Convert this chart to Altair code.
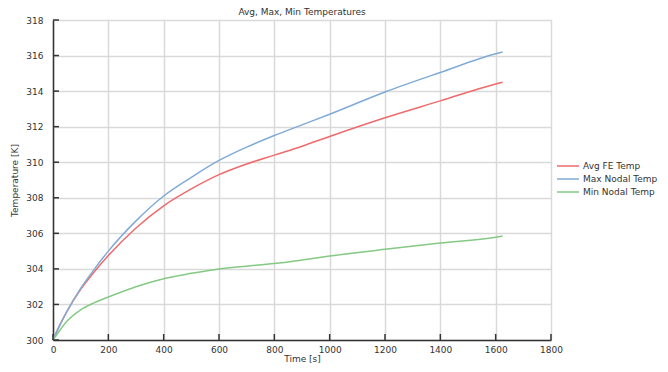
import altair as alt
import pandas as pd

time_s = [0, 25, 50, 100, 150, 200, 300, 400, 500, 600, 700, 800, 900, 1000, 1200, 1400, 1600, 1625]
avg_fe = [300.0, 300.85, 301.6, 302.85, 303.85, 304.75, 306.3, 307.55, 308.5, 309.3, 309.9, 310.4, 310.9, 311.45, 312.5, 313.45, 314.4, 314.5]
max_nodal = [300.0, 300.85, 301.6, 302.9, 304.0, 305.0, 306.7, 308.1, 309.15, 310.1, 310.85, 311.5, 312.1, 312.7, 313.95, 315.05, 316.1, 316.2]
min_nodal = [300.0, 300.55, 301.05, 301.7, 302.1, 302.42, 303.0, 303.45, 303.75, 304.0, 304.15, 304.3, 304.5, 304.72, 305.1, 305.45, 305.78, 305.85]

series_names = ["Avg FE Temp", "Max Nodal Temp", "Min Nodal Temp"]
series_colors = ["#f06a6c", "#80abd6", "#84c984"]

x_ticks = [0, 200, 400, 600, 800, 1000, 1200, 1400, 1600, 1800]
y_ticks = [300, 302, 304, 306, 308, 310, 312, 314, 316, 318]

chart_title = "Avg, Max, Min Temperatures"

rows = []
for name, vals in zip(series_names, [avg_fe, max_nodal, min_nodal]):
    for t, v in zip(time_s, vals):
        rows.append({"time": t, "temp": v, "series": name})
df = pd.DataFrame(rows)

FONT = "DejaVu Sans"
TXT = "#333333"
W, H = 498, 320

xscale = alt.Scale(domain=[0, 1800], nice=False)
yscale = alt.Scale(domain=[300, 318], nice=False, zero=False)
cscale = alt.Scale(domain=series_names, range=series_colors)

x_axis = alt.Axis(title="Time [s]", values=x_ticks, format="d", grid=True,
                  gridColor="#d9d9d9", gridWidth=1.5, domainColor=TXT,
                  domainWidth=1.5, tickSize=0, labelPadding=5,
                  labelOverlap=False, labelFlush=False,
                  labelFont=FONT, labelFontSize=9, labelColor=TXT,
                  titleFont=FONT, titleFontSize=9, titleFontWeight="normal",
                  titleColor=TXT, titleY=18, titleBaseline="middle")

lines = alt.Chart(df).mark_line(strokeWidth=1.5, interpolate="monotone").encode(
    x=alt.X("time:Q", scale=xscale, axis=x_axis),
    y=alt.Y("temp:Q", scale=yscale,
            axis=alt.Axis(title="Temperature [K]", values=y_ticks, format="d", grid=True,
                          gridColor="#d9d9d9", gridWidth=1.5, domainColor=TXT,
                          domainWidth=1.5, tickSize=0, labelPadding=10,
                          labelOverlap=False, labelFlush=False,
                          labelFont=FONT, labelFontSize=9, labelColor=TXT,
                          titleFont=FONT, titleFontSize=9, titleFontWeight="normal",
                          titleColor=TXT, titleX=-39, titleY=H / 2,
                          titleBaseline="middle", titleAlign="center")),
    color=alt.Color("series:N", scale=cscale, legend=None),
)

# inward tick marks
xt = pd.DataFrame({"time": x_ticks})
yt = pd.DataFrame({"v": y_ticks})
xtick_marks = alt.Chart(xt).mark_rule(color=TXT, strokeWidth=1.5).encode(
    x=alt.X("time:Q", scale=xscale, axis=x_axis), y=alt.value(H), y2=alt.value(H - 6))
ytick_marks = alt.Chart(yt).mark_rule(color=TXT, strokeWidth=1.5).encode(
    y=alt.Y("v:Q", scale=yscale, axis=None), x=alt.value(0), x2=alt.value(6))

# title as text
title_mark = alt.Chart(pd.DataFrame({"t": [chart_title]})).mark_text(
    font=FONT, fontSize=9, color=TXT, align="center", baseline="middle").encode(
    text="t:N", x=alt.value(W / 2), y=alt.value(-8))

# manual legend
leg = pd.DataFrame({"series": series_names})
leg_y = alt.Y("series:N", scale=alt.Scale(domain=series_names, range=[146, 172], type="point", padding=0), axis=None)
leg_lines = alt.Chart(leg).mark_rule(strokeWidth=1.5).encode(
    y=leg_y, x=alt.value(504), x2=alt.value(526),
    color=alt.Color("series:N", scale=cscale, legend=None))
leg_text = alt.Chart(leg).mark_text(font=FONT, fontSize=9, color=TXT, align="left",
                                    baseline="middle").encode(
    y=leg_y, x=alt.value(530), text="series:N")
legend_layer = alt.layer(leg_lines, leg_text)

chart = alt.layer(lines, xtick_marks, ytick_marks, title_mark, legend_layer).resolve_scale(
    y="independent"
).properties(
    width=W, height=H,
    autosize=alt.AutoSizeParams(type="none"),
    padding={"left": 45, "top": 12, "right": 108, "bottom": 24},
).configure_view(stroke=TXT, strokeWidth=1.5).configure(background="white")

chart.save("out.html", embed_options={"renderer": "svg", "actions": False})
